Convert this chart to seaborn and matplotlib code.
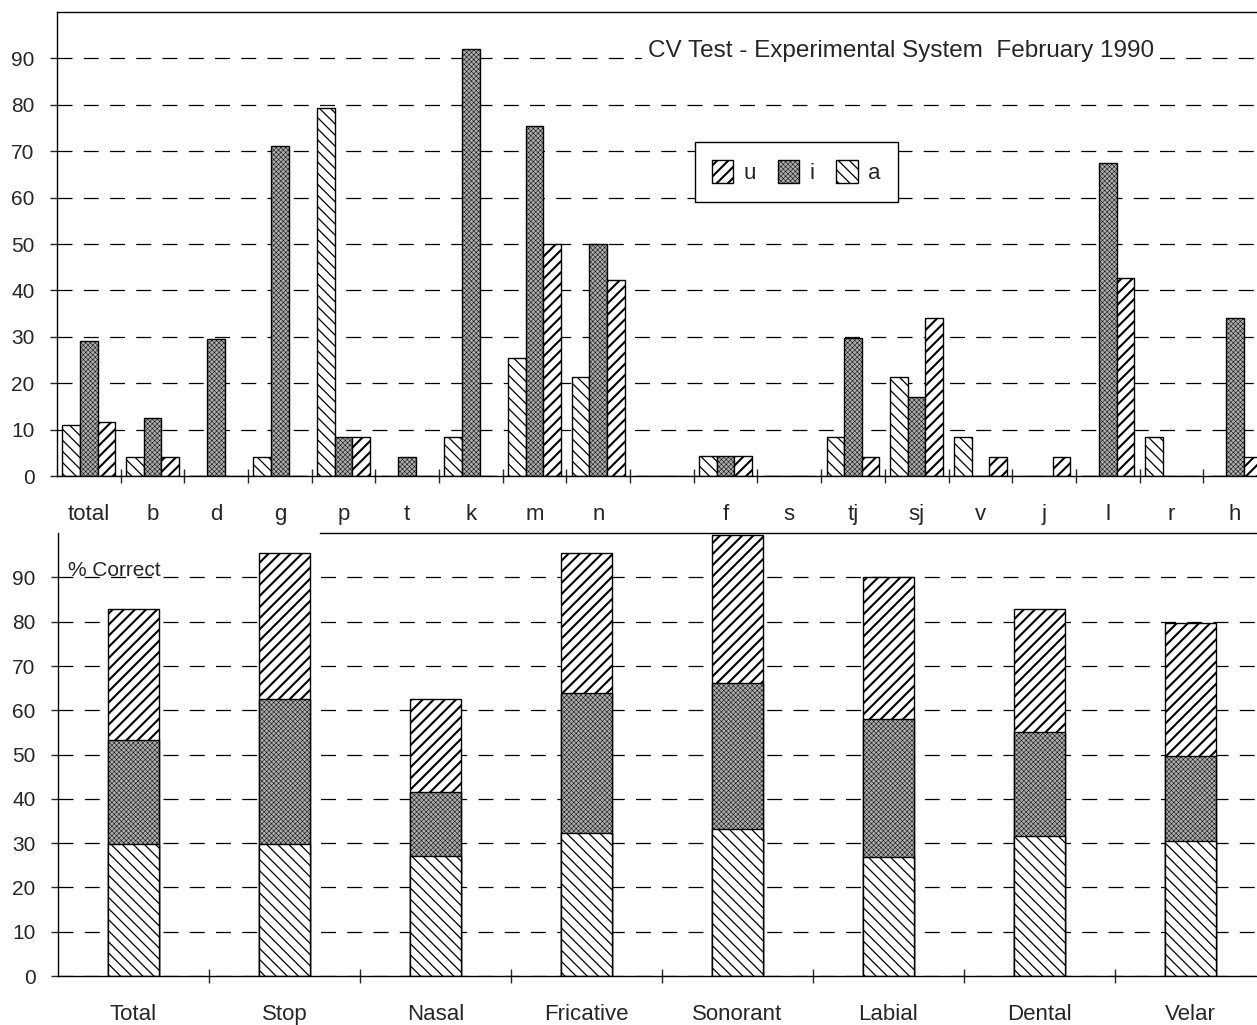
import numpy as np
import pandas as pd
import matplotlib.pyplot as plt
import seaborn as sns
from matplotlib.patches import Patch
from matplotlib.ticker import FixedLocator

# top panel: % correct per consonant, one bar per vowel context (blank slot between n and f)
consonants = ["total", "b", "d", "g", "p", "t", "k", "m", "n", " ",
              "f", "s", "tj", "sj", "v", "j", "l", "r", "h"]
cons_a = [11.0, 4.0, 0, 4.0, 79.4, 0, 8.4, 25.5, 21.3, 0, 4.3, 0, 8.5, 21.3, 8.5, 0, 0, 8.5, 0]
cons_i = [29.2, 12.4, 29.5, 71.1, 8.4, 4.2, 92.0, 75.4, 50.0, 0, 4.3, 0, 29.8, 17.1, 0, 0, 67.5, 0, 34.1]
cons_u = [11.6, 4.0, 0, 0, 8.4, 0, 0, 50.0, 42.2, 0, 4.3, 0, 4.2, 34.1, 4.2, 4.2, 42.7, 0, 4.2]

# bottom panel: stacked % correct per class
classes = ["Total", "Stop", "Nasal", "Fricative", "Sonorant", "Labial", "Dental", "Velar"]
class_a = [29.9, 29.7, 27.2, 32.2, 33.2, 26.9, 31.7, 30.5]
class_i = [23.5, 32.9, 14.4, 31.6, 32.9, 31.1, 23.3, 19.2]
class_u = [29.4, 33.0, 20.9, 31.8, 33.6, 32.1, 27.8, 30.1]

vowels = ["a", "i", "u"]
hatches = {"a": "\\\\\\", "i": "xxxxxxx", "u": "///"}
hatch_lw = {"a": 0.9, "i": 0.35, "u": 1.5}
faces = {"a": "white", "i": "#acacac", "u": "white"}

sns.set_style("white")
plt.rcParams["font.family"] = ["Liberation Sans", "DejaVu Sans"]
plt.rcParams["axes.linewidth"] = 1.0


def style_bar(bar, v):
    bar.set_hatch(hatches[v])
    bar.set_facecolor(faces[v])
    if hasattr(bar, "set_hatch_linewidth"):
        bar.set_hatch_linewidth(hatch_lw[v])
    else:
        bar._hatch_linewidth = hatch_lw[v]


top = pd.DataFrame({
    "cons": consonants * 3,
    "vowel": ["a"] * 19 + ["i"] * 19 + ["u"] * 19,
    "pct": cons_a + cons_i + cons_u,
})

fig = plt.figure(figsize=(12.57, 10.25), dpi=100)
ax1 = fig.add_axes([0.0453, 0.5356, 0.9626, 0.4527])
ax2 = fig.add_axes([0.0461, 0.0478, 0.961, 0.432])

grid_kw = dict(axis="y", color="black", linestyle=(0, (12, 9)), linewidth=0.9)

# ---- top panel
sns.barplot(data=top, x="cons", y="pct", hue="vowel", order=consonants,
            hue_order=vowels, palette=faces, edgecolor="black", linewidth=1,
            width=0.83, errorbar=None, legend=False, ax=ax1)
for cont, v in zip(ax1.containers, vowels):
    for bar in cont:
        style_bar(bar, v)

ax1.set_xlim(-0.5, 18.5)
ax1.set_ylim(0, 100)

# ---- bottom panel (layered cumulative bars -> stacked look)
tot_ai = [a + i for a, i in zip(class_a, class_i)]
tot_aiu = [s + u for s, u in zip(tot_ai, class_u)]
for heights, v in [(tot_aiu, "u"), (tot_ai, "i"), (class_a, "a")]:
    sns.barplot(x=classes, y=heights, order=classes, color=faces[v],
                edgecolor="black", linewidth=1, width=0.34, errorbar=None, ax=ax2)
    for bar in ax2.containers[-1]:
        style_bar(bar, v)

ax2.set_xlim(-0.5, 7.5)
ax2.set_ylim(0, 100)

for ax, n in [(ax1, 19), (ax2, 8)]:
    ax.set_xlabel("")
    ax.set_ylabel("")
    ax.set_axisbelow(True)
    ax.grid(**grid_kw)
    ax.yaxis.set_major_locator(FixedLocator(range(0, 100, 10)))
    ax.xaxis.set_minor_locator(FixedLocator(np.arange(0.5, n - 1, 1)))
    ax.tick_params(axis="y", left=True, direction="out", length=5, width=1,
                   pad=11, labelsize=15)
    ax.tick_params(axis="x", which="major", bottom=True, length=0, pad=20, labelsize=16)
    ax.tick_params(axis="x", which="minor", bottom=True, direction="inout",
                   length=10, width=1)
    ax.spines["right"].set_visible(False)
    for s in ["left", "bottom", "top"]:
        ax.spines[s].set_color("black")

ax2.spines["top"].set_bounds(1.235, 7.5)

ax1.text(0.6975, 0.917, "CV Test - Experimental System  February 1990",
         transform=ax1.transAxes, ha="center", va="center", fontsize=17.5,
         bbox=dict(facecolor="white", edgecolor="none", pad=4))
ax2.text(0.008, 0.916, "% Correct", transform=ax2.transAxes,
         ha="left", va="center", fontsize=15)

leg_order = ["u", "i", "a"]
handles = [Patch(edgecolor="black", facecolor=faces[v], hatch=hatches[v], label=v)
           for v in leg_order]
leg = ax1.legend(handles=handles, ncol=3, loc="upper left",
                 bbox_to_anchor=(0.527, 0.72), borderaxespad=0, fontsize=16,
                 frameon=True, fancybox=False, framealpha=1, facecolor="white",
                 handlelength=0.95, handleheight=1.25, handletextpad=0.45,
                 columnspacing=1.0, borderpad=0.8)
for p, v in zip(leg.get_patches(), leg_order):
    style_bar(p, v)
leg.get_frame().set_edgecolor("black")
leg.get_frame().set_linewidth(1)
leg.set_zorder(10)

fig.savefig("out.png", dpi=100)
